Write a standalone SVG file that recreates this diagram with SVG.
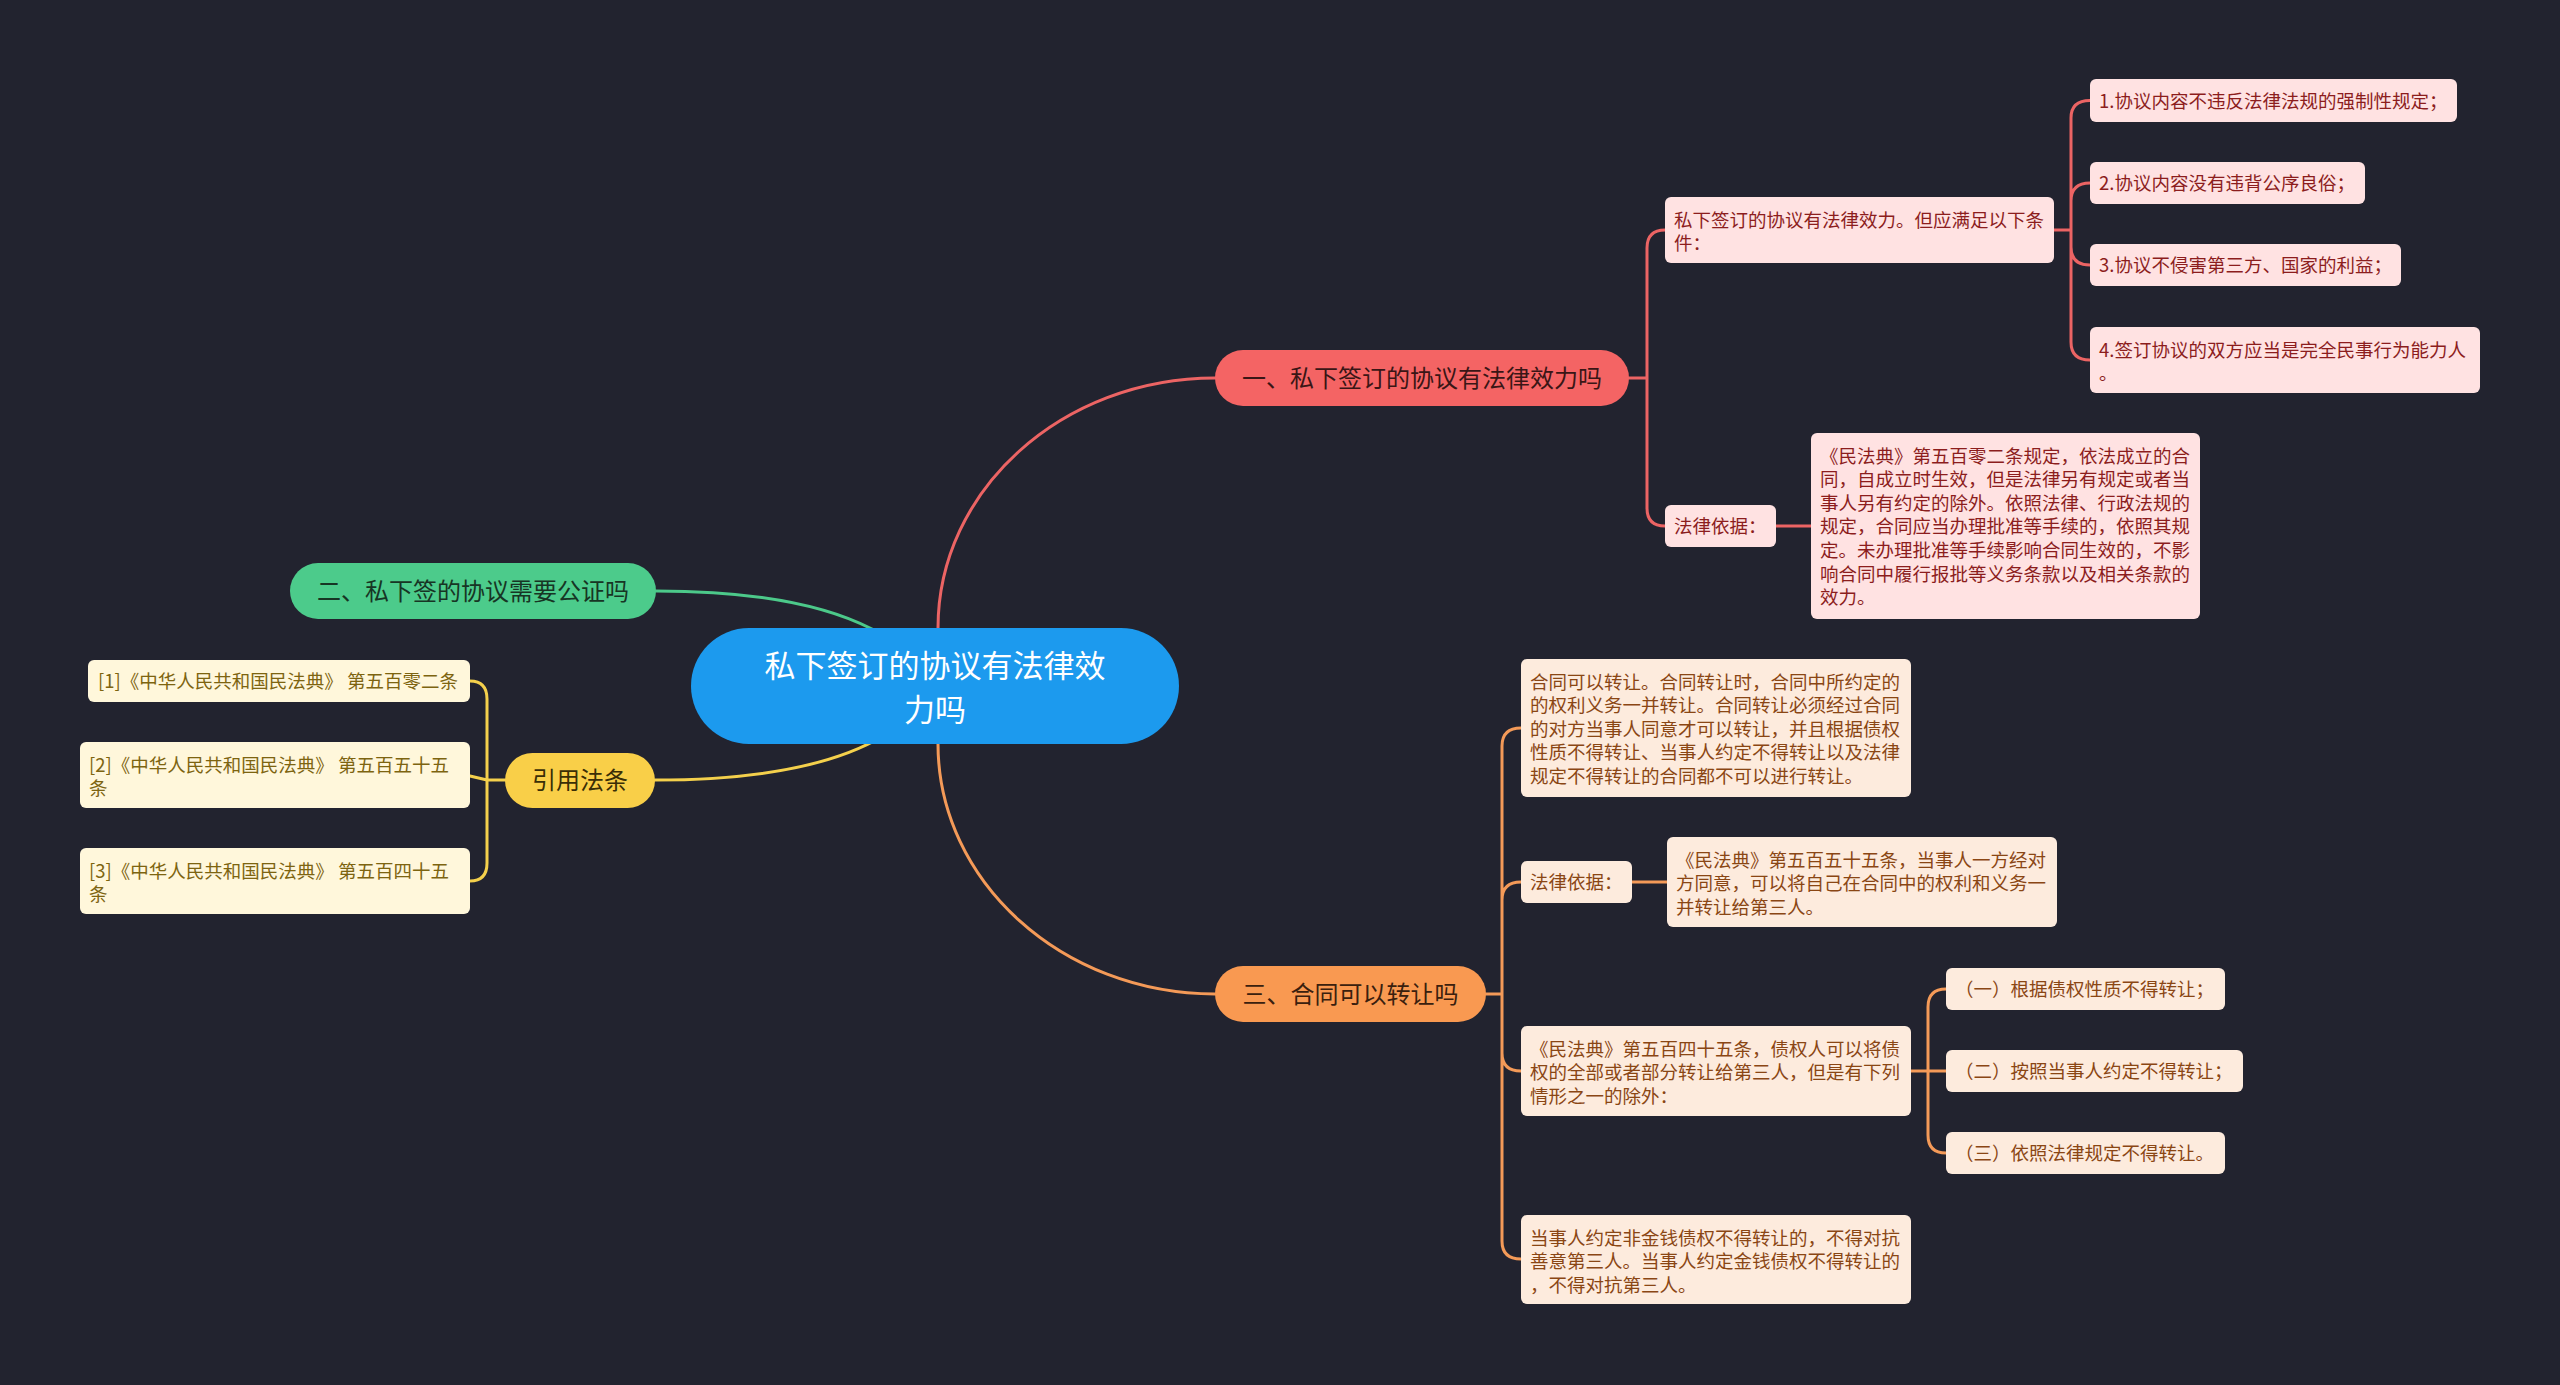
<svg xmlns="http://www.w3.org/2000/svg" width="2560" height="1385" viewBox="0 0 2560 1385">
<style>
text{font-family:"Noto Sans CJK SC","Noto Sans",sans-serif;}
.root-t{font-size:31px;fill:#ffffff;text-anchor:middle;}
.main-t{font-size:24px;text-anchor:middle;}
.t{font-size:18.5px;}
.red-c rect{fill:#ffe2e2;}
.red-c text{fill:#8c1d1d;}
.org-c rect{fill:#fdebdd;}
.org-c text{fill:#8a4614;}
.yel-c rect{fill:#fff7db;}
.yel-c text{fill:#7d6410;}
.lr{stroke:#ec6464;}
.lo{stroke:#f49a58;}
.lg{stroke:#4cc98a;}
.ly{stroke:#f4d04c;}
#connectors path{fill:none;stroke-width:3;stroke-linecap:round;}
</style>
<rect x="0" y="0" width="2560" height="1385" fill="#22232f"/>
<g id="connectors">
  <path class="lr" d="M938,686 V628 C938,490 1062,378 1215,378"/>
  <path class="lo" d="M938,686 V744 C938,881 1062,994 1215,994"/>
  <path class="lg" d="M656,591 Q880,591 935,686"/>
  <path class="ly" d="M655,780 Q880,780 935,686"/>
  <path class="lr" d="M1629,378 H1647 M1647,378 V248 Q1647,230 1665,230 M1647,378 V508 Q1647,526 1665,526"/>
  <path class="lr" d="M1776,526 H1811"/>
  <path class="lr" d="M2054,230 H2071 M2071,230 V118 Q2071,100.5 2090,100.5 M2071,230 V201 Q2071,183 2090,183 M2071,230 V247 Q2071,265 2090,265 M2071,230 V342 Q2071,360 2090,360"/>
  <path class="lo" d="M1486,994 H1502 M1502,994 V746 Q1502,728 1521,728 M1502,994 V900 Q1502,882 1521,882 M1502,994 V1053 Q1502,1071 1521,1071 M1502,994 V1241 Q1502,1259 1521,1259"/>
  <path class="lo" d="M1632,882 H1667"/>
  <path class="lo" d="M1911,1071 H1928 M1928,1071 V1007 Q1928,989 1946,989 M1928,1071 H1946 M1928,1071 V1135 Q1928,1153 1946,1153"/>
  <path class="ly" d="M505,780 H487 M487,780 V699 Q487,681 470,681 M487,780 L470,776 M487,780 V863 Q487,881 470,881"/>
</g>
<g id="root">
  <rect x="691" y="628" width="488" height="116" rx="58" fill="#1c9aee"/>
  <text class="root-t" x="935" y="677">私下签订的协议有法律效</text>
  <text class="root-t" x="935" y="721">力吗</text>
</g>
<g id="n1">
  <rect x="1215" y="350" width="414" height="56" rx="28" fill="#f46464"/>
  <text class="main-t" x="1422" y="387" fill="#3a1616">一、私下签订的协议有法律效力吗</text>
</g>
<g id="n2">
  <rect x="290" y="563" width="366" height="56" rx="28" fill="#4ccb8b"/>
  <text class="main-t" x="473" y="600" fill="#173524">二、私下签的协议需要公证吗</text>
</g>
<g id="n3">
  <rect x="1215" y="966" width="271" height="56" rx="28" fill="#f99951"/>
  <text class="main-t" x="1350.5" y="1003" fill="#3a200e">三、合同可以转让吗</text>
</g>
<g id="n4">
  <rect x="505" y="753" width="150" height="55" rx="27.5" fill="#f9cf48"/>
  <text class="main-t" x="580" y="789" fill="#3a2e06">引用法条</text>
</g>
<g id="n1-1" class="red-c">
  <rect x="1665" y="197" width="389" height="66" rx="6"/>
  <text class="t" x="1674" y="226.5">私下签订的协议有法律效力。但应满足以下条</text>
  <text class="t" x="1674" y="250.1">件：</text>
</g>
<g id="n1-1-1" class="red-c">
  <rect x="2090" y="79" width="367" height="43" rx="6"/>
  <text class="t" x="2099" y="107.5">1.协议内容不违反法律法规的强制性规定；</text>
</g>
<g id="n1-1-2" class="red-c">
  <rect x="2090" y="162" width="275" height="42" rx="6"/>
  <text class="t" x="2099" y="190">2.协议内容没有违背公序良俗；</text>
</g>
<g id="n1-1-3" class="red-c">
  <rect x="2090" y="244" width="311" height="42" rx="6"/>
  <text class="t" x="2099" y="272">3.协议不侵害第三方、国家的利益；</text>
</g>
<g id="n1-1-4" class="red-c">
  <rect x="2090" y="327" width="390" height="66" rx="6"/>
  <text class="t" x="2099" y="356.5">4.签订协议的双方应当是完全民事行为能力人</text>
  <text class="t" x="2099" y="380.1">。</text>
</g>
<g id="n1-2" class="red-c">
  <rect x="1665" y="505" width="111" height="42" rx="6"/>
  <text class="t" x="1674" y="533">法律依据：</text>
</g>
<g id="n1-2-1" class="red-c">
  <rect x="1811" y="433" width="389" height="186" rx="6"/>
  <text class="t" x="1820" y="462.5">《民法典》第五百零二条规定，依法成立的合</text>
  <text class="t" x="1820" y="486.1">同，自成立时生效，但是法律另有规定或者当</text>
  <text class="t" x="1820" y="509.7">事人另有约定的除外。依照法律、行政法规的</text>
  <text class="t" x="1820" y="533.3">规定，合同应当办理批准等手续的，依照其规</text>
  <text class="t" x="1820" y="556.9">定。未办理批准等手续影响合同生效的，不影</text>
  <text class="t" x="1820" y="580.5">响合同中履行报批等义务条款以及相关条款的</text>
  <text class="t" x="1820" y="604.1">效力。</text>
</g>
<g id="n3-1" class="org-c">
  <rect x="1521" y="659" width="390" height="138" rx="6"/>
  <text class="t" x="1530" y="688.5">合同可以转让。合同转让时，合同中所约定的</text>
  <text class="t" x="1530" y="712.1">的权利义务一并转让。合同转让必须经过合同</text>
  <text class="t" x="1530" y="735.7">的对方当事人同意才可以转让，并且根据债权</text>
  <text class="t" x="1530" y="759.3">性质不得转让、当事人约定不得转让以及法律</text>
  <text class="t" x="1530" y="782.9">规定不得转让的合同都不可以进行转让。</text>
</g>
<g id="n3-2" class="org-c">
  <rect x="1521" y="861" width="111" height="42" rx="6"/>
  <text class="t" x="1530" y="889">法律依据：</text>
</g>
<g id="n3-2-1" class="org-c">
  <rect x="1667" y="837" width="390" height="90" rx="6"/>
  <text class="t" x="1676" y="866.5">《民法典》第五百五十五条，当事人一方经对</text>
  <text class="t" x="1676" y="890.1">方同意，可以将自己在合同中的权利和义务一</text>
  <text class="t" x="1676" y="913.7">并转让给第三人。</text>
</g>
<g id="n3-3" class="org-c">
  <rect x="1521" y="1026" width="390" height="90" rx="6"/>
  <text class="t" x="1530" y="1055.5">《民法典》第五百四十五条，债权人可以将债</text>
  <text class="t" x="1530" y="1079.1">权的全部或者部分转让给第三人，但是有下列</text>
  <text class="t" x="1530" y="1102.7">情形之一的除外：</text>
</g>
<g id="n3-3-1" class="org-c">
  <rect x="1946" y="968" width="279" height="42" rx="6"/>
  <text class="t" x="1955" y="996">（一）根据债权性质不得转让；</text>
</g>
<g id="n3-3-2" class="org-c">
  <rect x="1946" y="1050" width="297" height="42" rx="6"/>
  <text class="t" x="1955" y="1078">（二）按照当事人约定不得转让；</text>
</g>
<g id="n3-3-3" class="org-c">
  <rect x="1946" y="1132" width="279" height="42" rx="6"/>
  <text class="t" x="1955" y="1160">（三）依照法律规定不得转让。</text>
</g>
<g id="n3-4" class="org-c">
  <rect x="1521" y="1215" width="390" height="89" rx="6"/>
  <text class="t" x="1530" y="1244.5">当事人约定非金钱债权不得转让的，不得对抗</text>
  <text class="t" x="1530" y="1268.1">善意第三人。当事人约定金钱债权不得转让的</text>
  <text class="t" x="1530" y="1291.7">，不得对抗第三人。</text>
</g>
<g id="n4-1" class="yel-c">
  <rect x="88" y="660" width="382" height="42" rx="6"/>
  <text class="t" x="98" y="688">[1]《中华人民共和国民法典》 第五百零二条</text>
</g>
<g id="n4-2" class="yel-c">
  <rect x="80" y="742" width="390" height="66" rx="6"/>
  <text class="t" x="89" y="771.5">[2]《中华人民共和国民法典》 第五百五十五</text>
  <text class="t" x="89" y="795.1">条</text>
</g>
<g id="n4-3" class="yel-c">
  <rect x="80" y="848" width="390" height="66" rx="6"/>
  <text class="t" x="89" y="877.5">[3]《中华人民共和国民法典》 第五百四十五</text>
  <text class="t" x="89" y="901.1">条</text>
</g>
</svg>
